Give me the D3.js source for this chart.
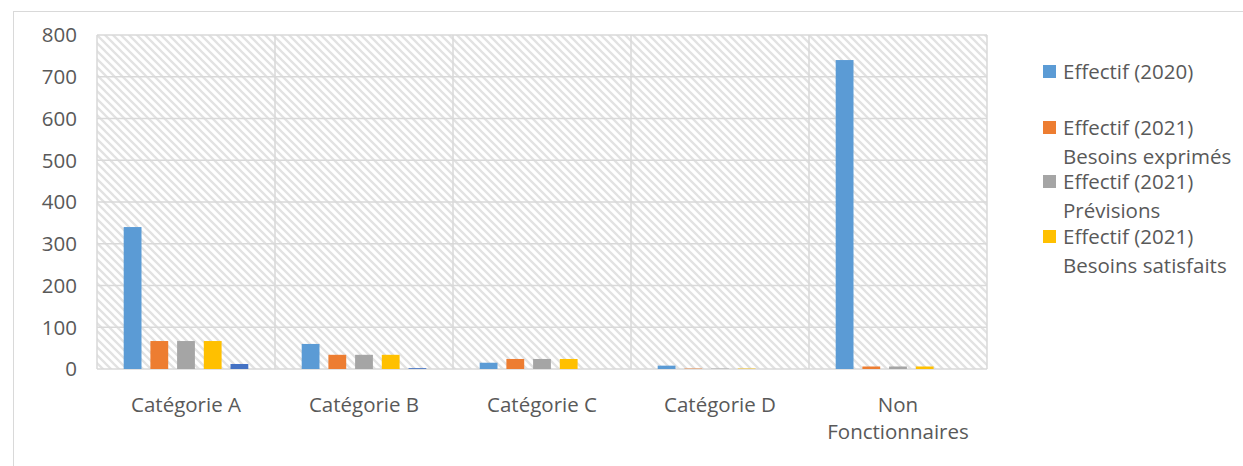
<!DOCTYPE html>
<html lang="fr">
<head>
<meta charset="UTF-8">
<title>Effectifs</title>
<script src="https://d3js.org/d3.v7.min.js"></script>
<style>
  body { margin: 0; background: #fff; }
  text { font-family: "Open Sans", "Liberation Sans", sans-serif; fill: #595959; }
</style>
</head>
<body>
<div id="chart"></div>
<script>
// data
var categories = ["Catégorie A", "Catégorie B", "Catégorie C", "Catégorie D", "Non Fonctionnaires"];
var seriesNames = ["Effectif (2020)", "Effectif (2021) Besoins exprimés", "Effectif (2021) Prévisions", "Effectif (2021) Besoins satisfaits", "Effectif (2021) Recrutés"];
var effectif2020 = [340, 60, 15, 8, 740];
var besoinsExprimes = [67, 34, 24, 1, 6];
var previsions = [67, 34, 24, 1, 6];
var besoinsSatisfaits = [67, 34, 24, 1, 6];
var recrutes = [12, 2, 0, 0, 0];
var yTicks = [0, 100, 200, 300, 400, 500, 600, 700, 800];
var colors = ["#5B9BD5", "#ED7D31", "#A5A5A5", "#FFC000", "#4472C4"];

var series = [effectif2020, besoinsExprimes, previsions, besoinsSatisfaits, recrutes];

var W = 1243, H = 466;
var margin = {top: 35, left: 97, right: 256, bottom: 97};
var width = W - margin.left - margin.right,
    height = H - margin.top - margin.bottom;
var fontSize = "20.5px";

var svg = d3.select("#chart").append("svg")
  .attr("width", W)
  .attr("height", H);

// hatch pattern (wide downward diagonal)
var defs = svg.append("defs");
defs.append("pattern")
  .attr("id", "hatch")
  .attr("patternUnits", "userSpaceOnUse")
  .attr("width", 8).attr("height", 8)
  .append("path")
    .attr("d", "M0,0 L8,8 M-2,6 L2,10 M6,-2 L10,2")
    .attr("stroke", "#e2e2e2")
    .attr("stroke-width", 2.3);

// outer chart border
svg.append("rect")
  .attr("x", 13.5).attr("y", 11.5)
  .attr("width", W).attr("height", H)
  .attr("fill", "none")
  .attr("stroke", "#d9d9d9");

var g = svg.append("g")
  .attr("transform", "translate(" + margin.left + "," + margin.top + ")");

var x0 = d3.scaleBand().domain(categories).range([0, width]).paddingInner(0).paddingOuter(0);
var y = d3.scaleLinear().domain([0, 800]).range([height, 0]);

// plot area background
g.append("rect")
  .attr("width", width).attr("height", height)
  .attr("fill", "url(#hatch)");

// horizontal grid
g.selectAll(".hgrid")
  .data(yTicks)
  .enter().append("line")
    .attr("x1", 0).attr("x2", width)
    .attr("y1", function(d) { return y(d); })
    .attr("y2", function(d) { return y(d); })
    .attr("stroke", "#d9d9d9")
    .attr("stroke-width", 1.5);

// vertical grid at category boundaries
var bounds = categories.map(function(c) { return x0(c); }).concat([width]);
g.selectAll(".vgrid")
  .data(bounds)
  .enter().append("line")
    .attr("x1", function(d) { return d; })
    .attr("x2", function(d) { return d; })
    .attr("y1", 0).attr("y2", height)
    .attr("stroke", "#d9d9d9")
    .attr("stroke-width", 1.5);

// bars: bar width = band/10, gap between bars = half a bar, 1.5 bar each side
var bw = x0.bandwidth() / 10;
categories.forEach(function(cat, ci) {
  series.forEach(function(s, si) {
    var v = s[ci];
    if (v <= 0) return;
    g.append("rect")
      .attr("x", x0(cat) + 1.5 * bw + si * 1.5 * bw)
      .attr("y", y(v))
      .attr("width", bw)
      .attr("height", y(0) - y(v))
      .attr("fill", colors[si]);
  });
});

// y axis labels
g.selectAll(".ytick")
  .data(yTicks)
  .enter().append("text")
    .attr("x", -20)
    .attr("y", function(d) { return y(d); })
    .attr("dy", "0.36em")
    .attr("text-anchor", "end")
    .attr("font-size", fontSize)
    .text(function(d) { return d; });

// category labels
categories.forEach(function(cat) {
  var words = cat === "Non Fonctionnaires" ? ["Non", "Fonctionnaires"] : [cat];
  var t = g.append("text")
    .attr("x", x0(cat) + x0.bandwidth() / 2)
    .attr("y", height + 43)
    .attr("text-anchor", "middle")
    .attr("font-size", fontSize);
  words.forEach(function(w, i) {
    t.append("tspan")
      .attr("x", x0(cat) + x0.bandwidth() / 2)
      .attr("dy", i === 0 ? 0 : 27)
      .text(w);
  });
});

// legend (only the first four entries fit, like the original)
var legendLines = [
  ["Effectif (2020)"],
  ["Effectif (2021)", "Besoins exprimés"],
  ["Effectif (2021)", "Prévisions"],
  ["Effectif (2021)", "Besoins satisfaits"]
];
var legendY = [72, 128, 182, 237];
var legend = svg.append("g");
legendLines.forEach(function(lines, i) {
  legend.append("rect")
    .attr("x", 1043).attr("y", legendY[i] - 7)
    .attr("width", 13).attr("height", 13)
    .attr("fill", colors[i]);
  var t = legend.append("text")
    .attr("x", 1063).attr("y", legendY[i])
    .attr("font-size", fontSize);
  lines.forEach(function(l, j) {
    t.append("tspan")
      .attr("x", 1063)
      .attr("dy", j === 0 ? "0.36em" : 28.5)
      .text(l);
  });
});
</script>
</body>
</html>
